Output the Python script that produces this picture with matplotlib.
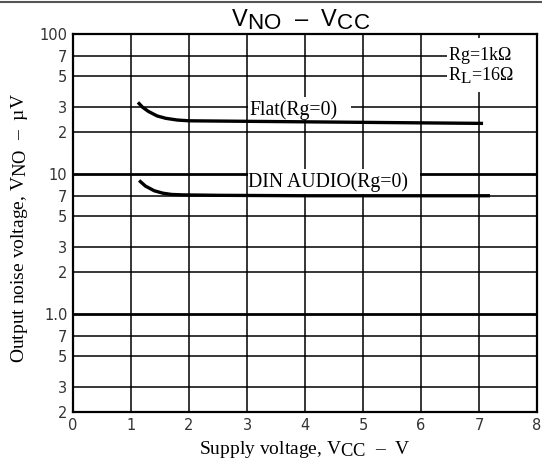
import numpy as np
import matplotlib.pyplot as plt
import matplotlib._mathtext as mathtext_internal
from matplotlib.patches import Rectangle
from matplotlib.lines import Line2D

plt.rcParams['mathtext.fontset'] = 'custom'
plt.rcParams['mathtext.rm'] = 'Liberation Serif'
plt.rcParams['mathtext.sf'] = 'Liberation Sans'
# the datasheet uses nearly full-size subscripts
mathtext_internal.SHRINK_FACTOR = 0.95

# Data (output noise voltage in uV vs supply voltage in V)
flat_vcc = [1.12, 1.2, 1.3, 1.45, 1.6, 1.8, 2.0, 3.0, 4.0, 5.0, 6.0, 7.07]
flat_vno = [32.5, 30.0, 28.0, 26.0, 25.0, 24.3, 24.0, 23.8, 23.6, 23.4, 23.2, 23.0]

din_vcc = [1.14, 1.25, 1.4, 1.55, 1.7, 1.9, 2.5, 4.0, 5.5, 7.19]
din_vno = [9.0, 8.2, 7.6, 7.3, 7.15, 7.1, 7.05, 7.0, 7.0, 7.0]

y_ticks = [0.2, 0.3, 0.5, 0.7, 1.0, 2, 3, 5, 7, 10, 20, 30, 50, 70, 100]
y_tick_labels = ['2', '3', '5', '7', '1.0', '2', '3', '5', '7', '10', '2', '3', '5', '7', '100']
x_ticks = list(range(0, 9))

TICK_FONT = ['Liberation Sans Narrow', 'DejaVu Sans']
SERIF = 'Liberation Serif'


def main():
    fig = plt.figure(figsize=(5.42, 4.66), dpi=100)
    ax = fig.add_axes([73 / 542, 1 - 412 / 466, 464 / 542, 378 / 466])
    ax.set_yscale('log')
    ax.set_xlim(0, 8)
    ax.set_ylim(0.2, 100)

    # grid lines
    for y in y_ticks:
        lw = 2.0 if y in (1.0, 10) else 1.1
        ax.axhline(y, color='black', lw=lw, zorder=1)
    for x in x_ticks[1:-1]:
        ax.axvline(x, color='black', lw=1.1, zorder=1)

    # white masks behind labels
    for (x0, x1, y0, y1) in [(3.0, 4.78, 24.5, 35.7), (3.0, 5.98, 7.25, 10.85),
                             (6.43, 7.97, 38.8, 93.8)]:
        ax.add_patch(Rectangle((x0 + 0.01, y0), x1 - x0, y1 - y0, facecolor='white',
                               edgecolor='none', zorder=2))

    # curves
    ax.plot(flat_vcc, flat_vno, color='black', lw=2.4, zorder=3, solid_capstyle='butt')
    ax.plot(din_vcc, din_vno, color='black', lw=2.4, zorder=3, solid_capstyle='butt')

    ax.text(3.04, 28.8, 'Flat(Rg=0)', fontsize=14.2, family=SERIF, va='center', ha='left', zorder=4)
    ax.text(3.02, 8.7, 'DIN AUDIO(Rg=0)', fontsize=14.2, family=SERIF, va='center', ha='left', zorder=4)
    ax.text(6.47, 70, r'Rg=1k$\Omega$', fontsize=13, family=SERIF, va='center', ha='left', zorder=4)
    ax.text(6.47, 51, r'R$_\mathrm{L}$=16$\Omega$', fontsize=13, family=SERIF, va='center', ha='left', zorder=4)

    # ticks
    ax.set_yticks(y_ticks)
    ax.set_yticklabels(y_tick_labels)
    ax.yaxis.set_minor_locator(plt.NullLocator())
    ax.set_xticks(x_ticks)
    ax.tick_params(length=0, labelsize=10.5, labelcolor='#333333', pad=4)
    for lbl in ax.get_xticklabels() + ax.get_yticklabels():
        lbl.set_family(TICK_FONT)
    for sp in ax.spines.values():
        sp.set_linewidth(1.6)

    # titles and axis labels
    fig.text(301 / 542, 1 - 20 / 466, r'$\mathsf{V_{NO}}$  –  $\mathsf{V_{CC}}$',
             fontsize=17, ha='center', va='center', family='Liberation Sans')
    fig.text(305 / 542, 1 - 449 / 466, r'Supply voltage, $\mathrm{V_{CC}}$  –  V',
             fontsize=14, ha='center', va='center', family=SERIF)
    fig.text(20 / 542, 1 - 228 / 466, r'Output noise voltage, $\mathrm{V_{NO}}$  –  µV',
             fontsize=14, ha='center', va='center', rotation=90, family=SERIF)

    # border line at top of the image
    fig.add_artist(Line2D([0, 1], [1 - 2 / 466, 1 - 2 / 466], transform=fig.transFigure,
                          color='#555555', lw=1.5))

    fig.savefig('out.png', dpi=100)


if __name__ == '__main__':
    main()
